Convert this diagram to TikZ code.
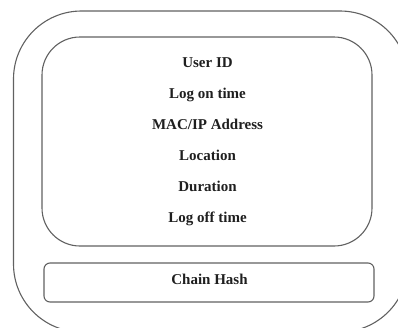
\documentclass[tikz,border=0pt]{standalone}
\usepackage{fontspec}
\setmainfont{Liberation Serif}
\begin{document}
\begin{tikzpicture}[x=1pt,y=-1pt,
  boxline/.style={draw=black!62,line width=1.1pt},
  field/.style={anchor=base,inner sep=0pt,font=\fontsize{15}{18}\selectfont\bfseries,text=black!88}]
\useasboundingbox (0,0) rectangle (398,327);
\begin{scope}
\clip (0,0) rectangle (398,327);
\draw[boxline,rounded corners=68pt] (13.5,11) rectangle (408,332);
\end{scope}
\draw[boxline,rounded corners=38pt] (42,37) rectangle (372,246);
\draw[boxline,rounded corners=6pt] (44,263) rectangle (374,302);
\node[field] (uid) at (207.5,67.5) {User ID};
\node[field] (lon) at (207.5,98.5) {Log on time};
\node[field] (mac) at (207.5,129.5) {MAC/IP Address};
\node[field] (loc) at (207.5,160.5) {Location};
\node[field] (dur) at (207.5,191.5) {Duration};
\node[field] (loff) at (207.5,222.5) {Log off time};
\node[field] (hash) at (209.5,284) {Chain Hash};
\end{tikzpicture}
\end{document}
